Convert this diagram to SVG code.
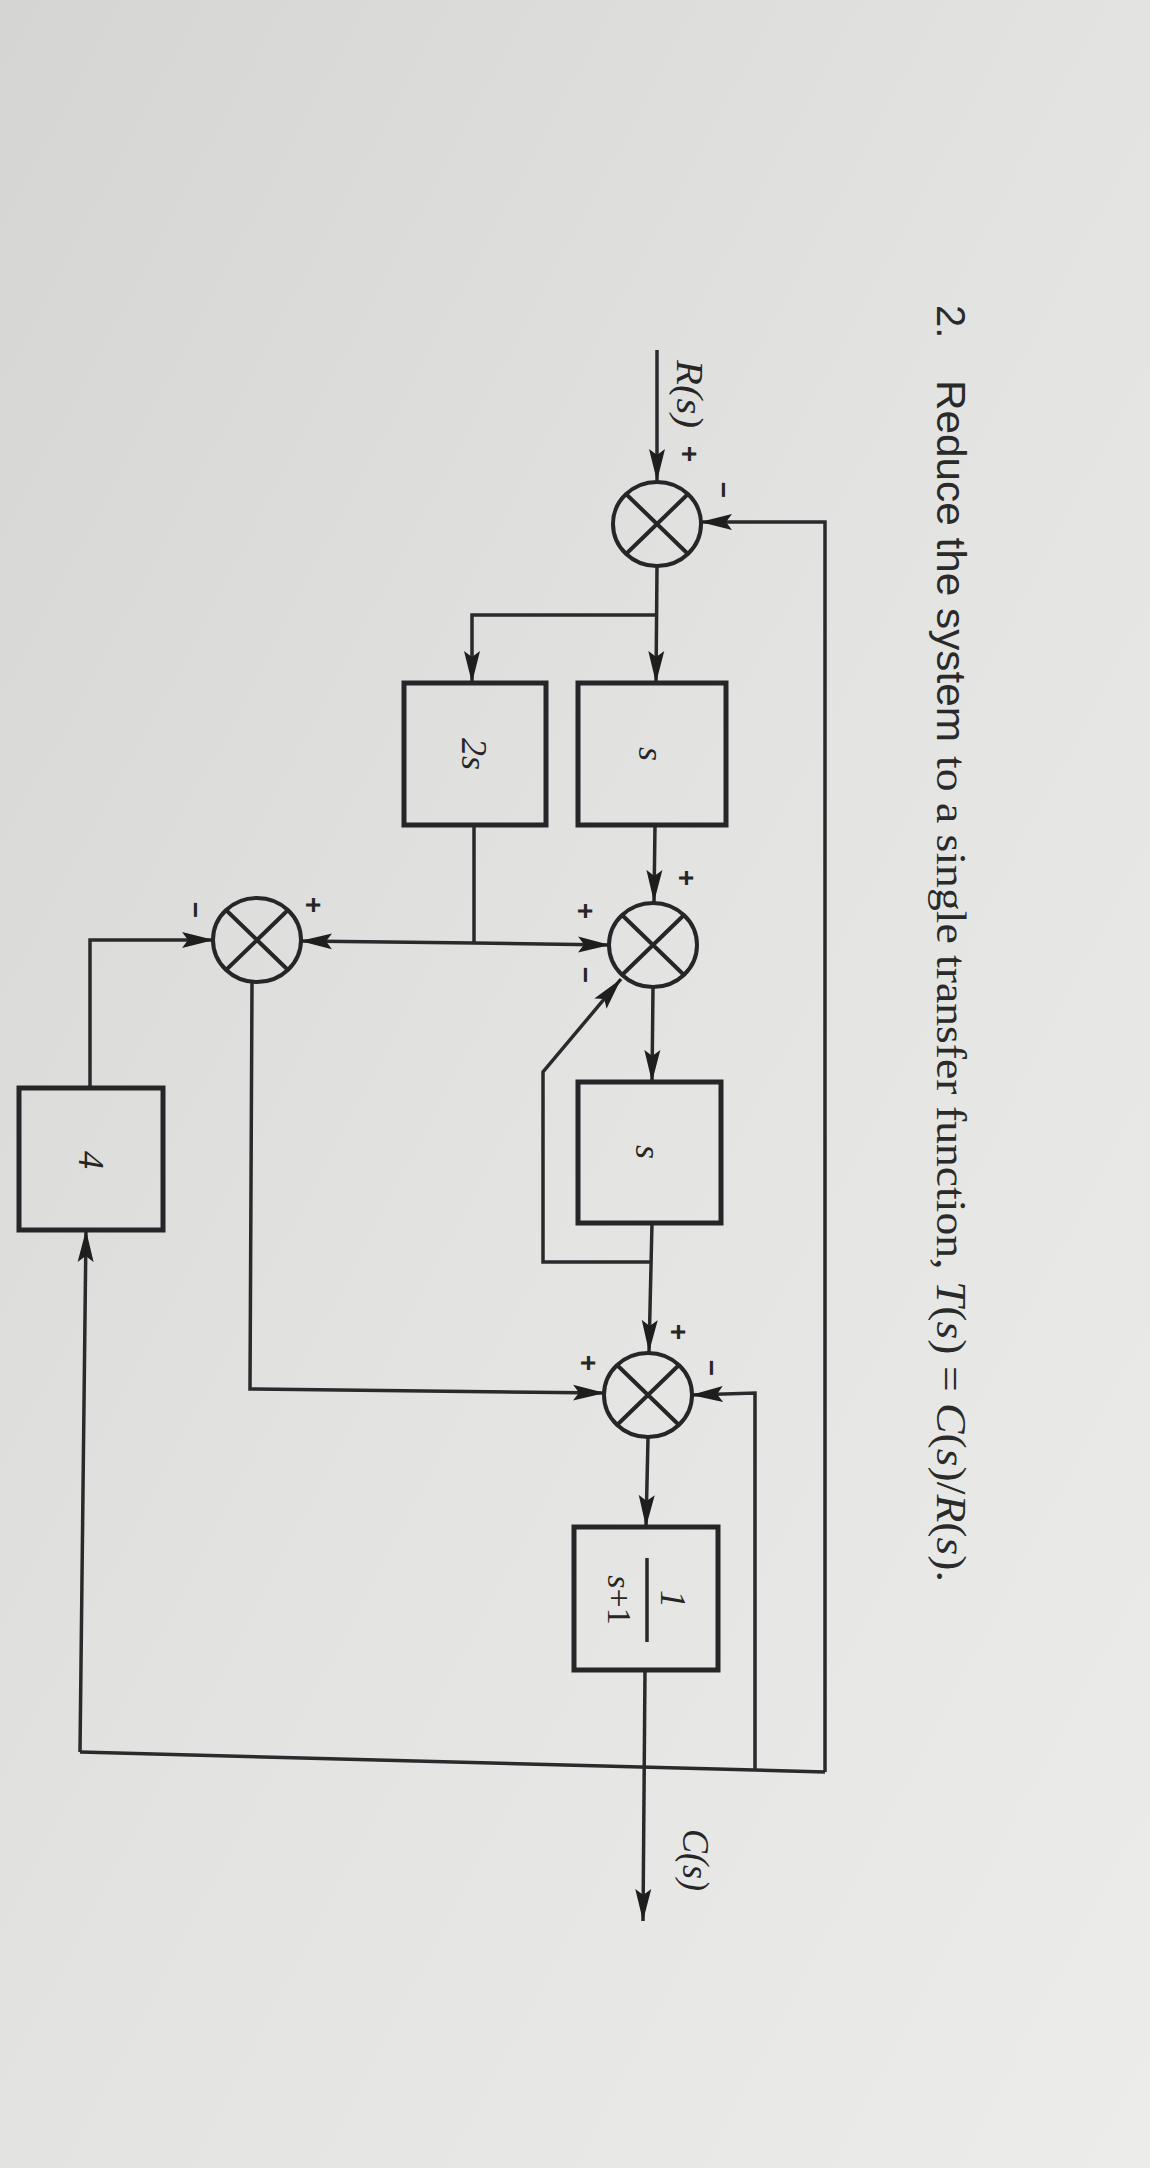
<svg xmlns="http://www.w3.org/2000/svg" width="1150" height="2168" viewBox="0 0 1150 2168">
<defs>
<linearGradient id="bg" x1="0" y1="0" x2="1" y2="1">
<stop offset="0" stop-color="#d5d5d3"/>
<stop offset="0.5" stop-color="#e3e3e1"/>
<stop offset="1" stop-color="#ececea"/>
</linearGradient>
<marker id="arr" markerUnits="userSpaceOnUse" viewBox="0 0 32 18" markerWidth="32" markerHeight="18" refX="32" refY="9" orient="auto">
<path d="M0,1 L32,9 L0,17 L6,9 z" fill="#1e1e1e"/>
</marker>
<style>
.ln{fill:none;stroke:#2a2a2c;stroke-width:3.5;stroke-linejoin:miter}
.ar{marker-end:url(#arr)}
.box{fill:none;stroke:#262628;stroke-width:5}
.sum{fill:none;stroke:#262628;stroke-width:4}
.lbl{font-family:"Liberation Serif",serif;font-style:italic;fill:#262626;text-anchor:middle;dominant-baseline:central}
.sg{font-family:"Liberation Sans",sans-serif;font-weight:bold;fill:#262626;text-anchor:middle;dominant-baseline:central;font-size:28px}
</style>
</defs>
<rect x="0" y="0" width="1150" height="2168" fill="url(#bg)"/>

<g id="title" fill="#2a2a2a">
<text transform="translate(937,305) rotate(90)" font-family="Liberation Sans, sans-serif" font-size="40">2.</text>
<text transform="translate(937,380) rotate(90)" font-family="Liberation Sans, sans-serif" font-size="41" textLength="362" lengthAdjust="spacingAndGlyphs">Reduce the system</text>
<text transform="translate(937,756) rotate(90)" font-family="Liberation Serif, serif" font-size="42" textLength="826" lengthAdjust="spacingAndGlyphs">to a single transfer function, <tspan font-style="italic">T</tspan>(<tspan font-style="italic">s</tspan>) = <tspan font-style="italic">C</tspan>(<tspan font-style="italic">s</tspan>)/<tspan font-style="italic">R</tspan>(<tspan font-style="italic">s</tspan>).</text>
</g>

<g id="connectors">
<path class="ln ar" d="M657,350 L657,481"/>
<path class="ln ar" d="M657,567 L656,683"/>
<path class="ln ar" d="M657,615 L472,615 L472,683"/>
<path class="ln ar" d="M655,825 L654,902"/>
<path class="ln" d="M474,825 L474,943"/>
<path class="ln ar" d="M474,943 L300,941"/>
<path class="ln ar" d="M474,943 L610,945"/>
<path class="ln ar" d="M653,988 L652,1082"/>
<path class="ln ar" d="M652,1223 L649,1352"/>
<path class="ln ar" d="M652,1262 L543,1262 L543,1072 L621,979"/>
<path class="ln ar" d="M252,983 L250,1389 L605,1393"/>
<path class="ln ar" d="M90,1088 L90,940 L214,940"/>
<path class="ln ar" d="M755,1770 L755,1393 L691,1395"/>
<path class="ln ar" d="M648,1438 L646,1527"/>
<path class="ln ar" d="M645,1670 L643,1921"/>
<path class="ln" d="M825,1772 L80,1752"/>
<path class="ln ar" d="M80,1752 L86,1230"/>
<path class="ln ar" d="M825,1772 L825,522 L700,522"/>
</g>

<g id="labels">
<text class="lbl" transform="translate(690,394) rotate(90)" font-size="38" textLength="68" lengthAdjust="spacingAndGlyphs">R(s)</text>
<text class="lbl" transform="translate(696,1860) rotate(90)" font-size="38" textLength="62" lengthAdjust="spacingAndGlyphs">C(s)</text>
</g>

<g id="node-j1">
<ellipse class="sum" cx="657" cy="524" rx="44" ry="42"/>
<path class="sum" d="M626,494 L688,554 M688,494 L626,554"/>
<text class="sg" transform="translate(689,454) rotate(90)">+</text>
<text class="sg" transform="translate(723,490) rotate(90)">−</text>
</g>

<g id="node-s1">
<rect class="box" x="578" y="683" width="148" height="142"/>
<text class="lbl" transform="translate(651,754) rotate(90)" font-size="36">s</text>
</g>

<g id="node-2s">
<rect class="box" x="404" y="683" width="142" height="142"/>
<text class="lbl" transform="translate(474,754) rotate(90)" font-size="36">2s</text>
</g>

<g id="node-j2">
<ellipse class="sum" cx="653" cy="945" rx="44" ry="42"/>
<path class="sum" d="M622,915 L684,975 M684,915 L622,975"/>
<text class="sg" transform="translate(686,878) rotate(90)">+</text>
<text class="sg" transform="translate(585,911) rotate(90)">+</text>
<text class="sg" transform="translate(585,975) rotate(90)">−</text>
</g>

<g id="node-j3">
<ellipse class="sum" cx="257" cy="940" rx="44" ry="42"/>
<path class="sum" d="M226,910 L288,970 M288,910 L226,970"/>
<text class="sg" transform="translate(195,910) rotate(90)">−</text>
<text class="sg" transform="translate(313,905) rotate(90)">+</text>
</g>

<g id="node-s2">
<rect class="box" x="578" y="1082" width="143" height="141"/>
<text class="lbl" transform="translate(648,1152) rotate(90)" font-size="36">s</text>
</g>

<g id="node-4">
<rect class="box" x="19" y="1088" width="144" height="142"/>
<text class="lbl" transform="translate(91,1160) rotate(90)" font-size="36" font-style="normal">4</text>
</g>

<g id="node-j4">
<ellipse class="sum" cx="648" cy="1395" rx="44" ry="42"/>
<path class="sum" d="M617,1365 L679,1425 M679,1365 L617,1425"/>
<text class="sg" transform="translate(678,1332) rotate(90)">+</text>
<text class="sg" transform="translate(588,1363) rotate(90)">+</text>
<text class="sg" transform="translate(711,1368) rotate(90)">−</text>
</g>

<g id="node-g">
<rect class="box" x="574" y="1527" width="144" height="143"/>
<path class="ln" d="M647,1558 L647,1642"/>
<text class="lbl" transform="translate(673,1599) rotate(90)" font-size="36" font-style="normal">1</text>
<text class="lbl" transform="translate(620,1600) rotate(90)" font-size="34"><tspan>s</tspan><tspan font-style="normal">+1</tspan></text>
</g>
</svg>
